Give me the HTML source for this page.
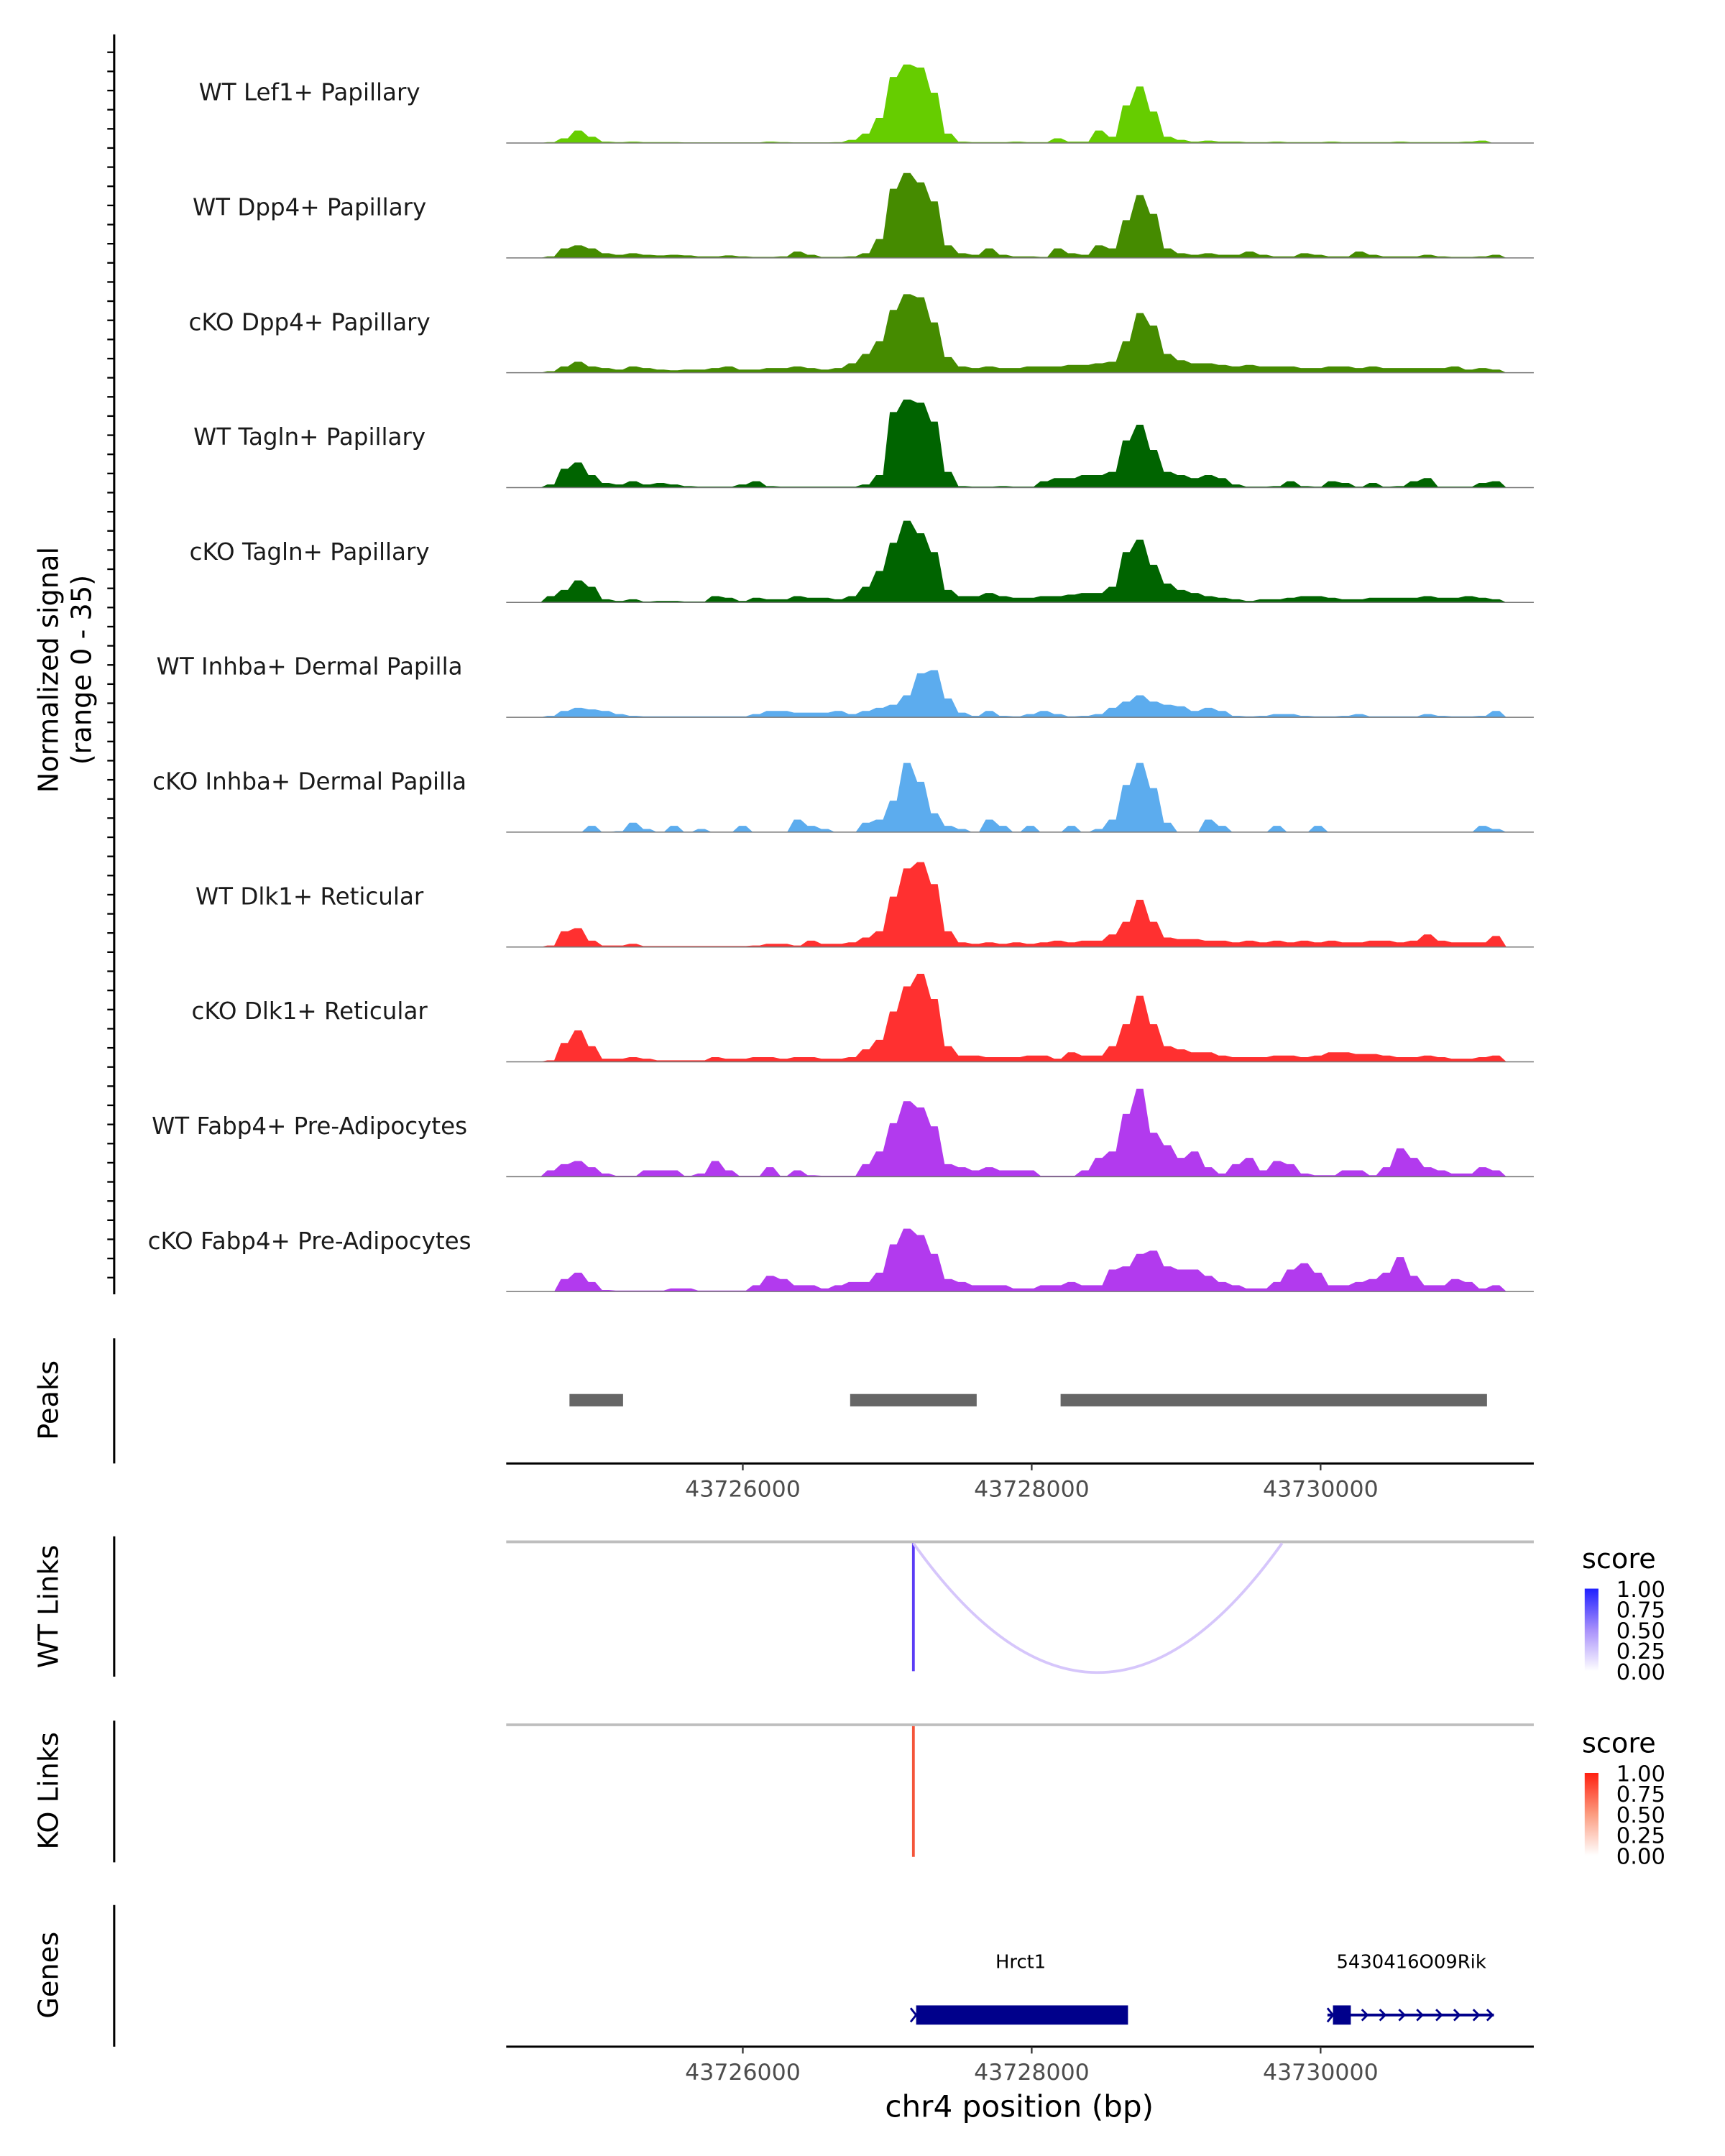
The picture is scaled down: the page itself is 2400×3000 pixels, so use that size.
<!DOCTYPE html>
<html><head><meta charset="utf-8"><style>
html,body{margin:0;padding:0;background:#fff;}
svg{display:block;font-family:"DejaVu Sans","Liberation Sans",sans-serif;}
</style></head><body>
<svg id="chart" width="2400" height="3000" viewBox="0 0 1254 1567.5" xmlns="http://www.w3.org/2000/svg">
<g id="tracks"></g>
<g id="leftaxis"><line x1="83" y1="25" x2="83" y2="941" stroke="#000" stroke-width="1.6"/></g>
<text transform="translate(42,487) rotate(-90)" text-anchor="middle" font-size="20">Normalized signal</text>
<text transform="translate(66,487) rotate(-90)" text-anchor="middle" font-size="20">(range 0 - 35)</text>

<g>
<line x1="83" y1="973" x2="83" y2="1064" stroke="#000" stroke-width="1.6"/>
<text transform="translate(42,1018) rotate(-90)" text-anchor="middle" font-size="20">Peaks</text>
<g id="peaks"></g>
</g>
<g id="xaxis1"><line x1="368" y1="1064" x2="1115" y2="1064" stroke="#000" stroke-width="1.6"/></g>

<g>
<line x1="83" y1="1117" x2="83" y2="1219" stroke="#000" stroke-width="1.6"/>
<text transform="translate(42,1168) rotate(-90)" text-anchor="middle" font-size="20">WT Links</text>
<line x1="368" y1="1121" x2="1115" y2="1121" stroke="#bebebe" stroke-width="2"/>
<line x1="664" y1="1122" x2="664" y2="1215" stroke="#5a3cf5" stroke-width="2"/>
<path d="M664 1122 Q798 1310 932 1122" fill="none" stroke="#d6c6fb" stroke-width="2"/>
</g>
<g>
<text x="1150" y="1140" font-size="20">score</text>
<defs>
<linearGradient id="gb" x1="0" y1="0" x2="0" y2="1"><stop offset="0" stop-color="#2020ff"/><stop offset="0.5" stop-color="#a890fb"/><stop offset="1" stop-color="#fff"/></linearGradient>
<linearGradient id="gr" x1="0" y1="0" x2="0" y2="1"><stop offset="0" stop-color="#ff2010"/><stop offset="0.5" stop-color="#fc9c80"/><stop offset="1" stop-color="#fff"/></linearGradient>
</defs>
<rect x="1152" y="1155" width="10" height="60" fill="url(#gb)"/>
<g font-size="16"><text x="1175" y="1161">1.00</text><text x="1175" y="1176">0.75</text><text x="1175" y="1191">0.50</text><text x="1175" y="1206">0.25</text><text x="1175" y="1221">0.00</text></g>
</g>

<g>
<line x1="83" y1="1251" x2="83" y2="1354" stroke="#000" stroke-width="1.6"/>
<text transform="translate(42,1302) rotate(-90)" text-anchor="middle" font-size="20">KO Links</text>
<line x1="368" y1="1254" x2="1115" y2="1254" stroke="#bebebe" stroke-width="2"/>
<line x1="664" y1="1255" x2="664" y2="1350" stroke="#f4553a" stroke-width="2"/>
</g>
<g>
<text x="1150" y="1274" font-size="20">score</text>
<rect x="1152" y="1289" width="10" height="60" fill="url(#gr)"/>
<g font-size="16"><text x="1175" y="1295">1.00</text><text x="1175" y="1310">0.75</text><text x="1175" y="1325">0.50</text><text x="1175" y="1340">0.25</text><text x="1175" y="1355">0.00</text></g>
</g>

<g>
<line x1="83" y1="1385" x2="83" y2="1488" stroke="#000" stroke-width="1.6"/>
<text transform="translate(42,1436) rotate(-90)" text-anchor="middle" font-size="20">Genes</text>
<text x="742" y="1431" text-anchor="middle" font-size="13.5">Hrct1</text>
<rect x="666" y="1458" width="154" height="14" fill="#00008b"/>
<path d="M662 1460 L666 1465 L662 1470" fill="none" stroke="#00008b" stroke-width="1.5"/>
<text x="1026" y="1431" text-anchor="middle" font-size="13.5">5430416O09Rik</text>
<g>
<line x1="965" y1="1465" x2="1086" y2="1465" stroke="#00008b" stroke-width="2"/>
<rect x="969" y="1458" width="13" height="14" fill="#00008b"/>
<path d="M965 1460 L969 1465 L965 1470 M990 1461 L994 1465 L990 1469 M1003 1461 L1007 1465 L1003 1469 M1017 1461 L1021 1465 L1017 1469 M1030 1461 L1034 1465 L1030 1469 M1044 1461 L1048 1465 L1044 1469 M1057 1461 L1061 1465 L1057 1469 M1071 1461 L1075 1465 L1071 1469 M1081 1461 L1085 1465 L1081 1469" fill="none" stroke="#00008b" stroke-width="1.5"/>
</g>
</g>
<g id="xaxis2"><line x1="368" y1="1488" x2="1115" y2="1488" stroke="#000" stroke-width="1.6"/></g>
<text x="741" y="1539" text-anchor="middle" font-size="22">chr4 position (bp)</text>

<script>
const trackNames = ["WT Lef1+ Papillary","WT Dpp4+ Papillary","cKO Dpp4+ Papillary","WT Tagln+ Papillary","cKO Tagln+ Papillary","WT Inhba+ Dermal Papilla","cKO Inhba+ Dermal Papilla","WT Dlk1+ Reticular","cKO Dlk1+ Reticular","WT Fabp4+ Pre-Adipocytes","cKO Fabp4+ Pre-Adipocytes"];
const trackColors = ["#66cd00","#458b00","#458b00","#006400","#006400","#5cacee","#5cacee","#ff3030","#ff3030","#b23aee","#b23aee"];
const sigLef1WT = [0,0,0,0.3, 1.5,4,2,0.5, 0.3,0.5,0.3,0.3,0.3,0.2,0.2,0.2,0.2,0.2,0.2,0.5, 0.3,0.2,0.2,0.2,0.3,1,3,8, 21,25,24,16,3,0.5, 0.3,0.3,0.3,0.5,0.3,0.3,1.5,0.5,0.5,4,2, 12,18,10,2,1, 0.5,0.8,0.5,0.5,0.3,0.3,0.5,0.3,0.3,0.3,0.5,0.3,0.3,0.3,0.3,0.5,0.3,0.3,0.3,0.3,0.5,0.8,0,0,0];
const sigDpp4WT = [0,0,0,0.5, 3,4,3,1.5, 1,1.5,1,0.8,1,0.8,0.5,0.5,0.8,0.5,0.3,0.3, 0.5,2,1,0.3,0.3,0.5,1.5,6, 22,27,24,18,4,1.5, 1,3,1,0.5,0.5,0.3,3,1.5,1,4,3, 12,20,14,3,1.5, 1,1.5,1,1,2,1,0.5,0.5,1.5,1,0.5,0.5,2,1,0.5,0.5,0.5,1,0.5,0.3,0.3,0.5,1,0,0];
const sigDpp4KO = [0,0,0,0.5, 2,3.5,2,1.5, 1,2,1.5,1,0.8,1,1,1.5,2,1,1,1.5, 1.5,2,1.5,1,1.5,3,6,10, 20,25,24,16,5,2, 1.5,2,1.5,1.5,2,2,2,2.5,2.5,3,3.5, 10,19,15,6,4, 3,3,2.5,2,2.5,2,2,2,1.5,1.5,2,2,1.5,2,1.5,1.5,1.5,1.5,1.5,2,1,1.5,1,0,0];
const sigTaglnWT = [0,0,0,1, 6,8,4,1.5, 1,2,1,1.5,1,0.5,0.3,0.3,0.3,1,2,0.5, 0.3,0.3,0.3,0.3,0.3,0.3,1,4, 24,28,27,21,5,0.5, 0.3,0.3,0.5,0.3,0.3,2,3,3,4,4,5, 15,20,12,5,4, 3,4,3,1,0.3,0.3,0.5,2,0.5,0.3,2,1.5,0.3,1.5,0.3,0.5,2,3,0.3,0.3,0.3,1.5,2,0,0];
const sigTaglnKO = [0,0,0,2, 4,7,5,1, 0.5,1,0.3,0.5,0.5,0.3,0.3,2,1.5,0.5,1.5,1, 1,2,1.5,1.5,1,2,5,10, 19,26,22,16,4,2, 2,3,2,1.5,1.5,2,2,2.5,3,3,5, 16,20,12,6,4, 3,2,1.5,1,0.5,1,1,1.5,2,2,1.5,1,1,1.5,1.5,1.5,1.5,2,1.5,1.5,2,1.5,1,0,0];
const sigInhbaWT = [0,0,0,0.5, 2,3,2.5,2, 1,0.5,0.3,0.3,0.3,0.3,0.3,0.3,0.3,0.3,1,2, 2,1.5,1.5,1.5,2,1,2,3, 4,7,14,15,6,1.5, 0.5,2,0.5,0.3,1,2,1,0.3,0.5,1,3, 5,7,5,4,3.5, 2,3,2,0.5,0.3,0.5,1,1,0.5,0.3,0.3,0.5,1,0.3,0.3,0.3,0.3,1,0.5,0.3,0.3,0.5,2,0,0];
const sigInhbaKO = [0,0,0,0, 0,0,2,0, 0.3,3,1,0,2,0,1,0,0,2,0,0, 0,4,2,1,0,0,3,4, 10,22,16,6,2,1, 0,4,2,0,2,0,0,2,0,1,4, 15,22,14,3,0, 0,4,2,0,0,0,2,0,0,2,0,0,0,0,0,0,0,0,0,0,0,2,1,0,0];
const sigDlk1WT = [0,0,0,0.5, 5,6,2,0.5, 0.5,1,0.3,0.3,0.3,0.3,0.3,0.3,0.3,0.3,0.5,1, 1,0.5,2,1,1,1.5,3,5, 16,25,27,20,5,1.5, 1,1.5,1,1.5,1,1.5,2,1.5,2,2,4, 8,15,8,3,2.5, 2.5,2,2,1.5,2,1.5,2,1.5,2,1.5,2,1.5,1.5,2,2,1.5,2,4,2,1.5,1.5,1.5,3.5,0,0];
const sigDlk1KO = [0,0,0,0.5, 6,10,5,1, 1,1.5,1,0.5,0.5,0.5,0.5,1.5,1,1,1.5,1.5, 1,1.5,1.5,1,1,1.5,4,7, 16,24,28,20,5,2, 2,1.5,1.5,1.5,2,2,1,3,2,2,5, 12,21,12,5,4, 3,3,2,1.5,1.5,1.5,2,2,1.5,2,3,3,2.5,2.5,2,1.5,1.5,2,1.5,1,1,1.5,2,0,0];
const sigFabp4WT = [0,0,0,2, 4,5,3,1, 0.3,0.3,2,2,2,0.3,1,5,2,0.3,0.3,3, 0.3,2,0.5,0.3,0.3,0.3,4,8, 17,24,22,16,4,3, 2,3,2,2,2,0.3,0.3,0.3,2,6,8, 20,28,14,10,6, 8,3,1,4,6,2,5,4,1,0.5,0.5,2,2,0.5,3,9,6,3,2,1,1,3,2,0,0];
const sigFabp4KO = [0,0,0,0, 4,6,3,0.5, 0.3,0.3,0.3,0.3,1,1,0.3,0.3,0.3,0.3,2,5, 4,2,2,1,2,3,3,6, 15,20,18,12,4,3, 2,2,2,1,1,2,2,3,2,2,7, 8,12,13,8,7, 7,5,3,2,1,1,3,7,9,6,2,2,3,4,6,11,5,2,2,4,3,1,2,0,0];
const signals = [sigLef1WT,sigDpp4WT,sigDpp4KO,sigTaglnWT,sigTaglnKO,sigInhbaWT,sigInhbaKO,sigDlk1WT,sigDlk1KO,sigFabp4WT,sigFabp4KO];
const regionStart = 43724362, regionEnd = 43731476, yMax = 35;
const peakStarts = [43724800, 43726743, 43728200];
const peakEnds = [43725171, 43727619, 43731152];
const xTicks = [43726000, 43728000, 43730000];

const NS = "http://www.w3.org/2000/svg";
const X0 = 368, X1 = 1115;
function xScale(p){ return X0 + (p - regionStart) / (regionEnd - regionStart) * (X1 - X0); }
const trackTop = 25, trackH = 83.5;
function mk(tag, attrs, parent){ const e = document.createElementNS(NS, tag); for (const k in attrs) e.setAttribute(k, attrs[k]); parent.appendChild(e); return e; }

const tg = document.getElementById('tracks');
signals.forEach((vals, t) => {
  const base = trackTop + trackH * (t + 1) - 4.5;
  const yS = v => base - v / yMax * 80;
  const g = mk('g', {}, tg);
  
  
  const n = vals.length;
  const bw = (regionEnd - regionStart) / n;
  let d = 'M' + X0 + ' ' + base;
  vals.forEach((v, i) => {
    const xa = xScale(regionStart + i * bw), xb = xScale(regionStart + (i + 1) * bw);
    d += ' L' + xa.toFixed(1) + ' ' + yS(v).toFixed(1) + ' L' + ((xa + xb) / 2).toFixed(1) + ' ' + yS(v).toFixed(1);
  });
  d += ' L' + X1 + ' ' + base + ' Z';
  const a = mk('path', {d: d, fill: trackColors[t]}, g);
  
  
  const bl = mk('line', {x1: X0, y1: base, x2: X1, y2: base, stroke: '#777', 'stroke-width': 0.8}, g);
  
  
  const lab = mk('text', {x: 225, y: base - 31, 'text-anchor': 'middle', 'font-size': 17, fill: '#1a1a1a'}, g);
  lab.textContent = trackNames[t];
  
  
});
const la = document.getElementById('leftaxis');
for (let y = 38; y < 941; y += 13.92) {
  const tk = mk('line', {x1: 78, y1: y, x2: 83, y2: y, stroke: '#000', 'stroke-width': 1.2}, la);
  
  
}
const pg = document.getElementById('peaks');
peakStarts.forEach((s, i) => {
  const r = mk('rect', {x: xScale(s), y: 1013.5, width: xScale(peakEnds[i]) - xScale(s), height: 9, fill: '#666'}, pg);
  
  
});
[['xaxis1', 1064], ['xaxis2', 1488]].forEach(([id, y]) => {
  const g = document.getElementById(id);
  xTicks.forEach(p => {
    const tk = mk('line', {x1: xScale(p), y1: y, x2: xScale(p), y2: y + 5, stroke: '#333', 'stroke-width': 1.2}, g);
    
    
    const tl = mk('text', {x: xScale(p), y: y + 24, 'text-anchor': 'middle', 'font-size': 16.5, fill: '#4d4d4d'}, g);
    tl.textContent = p;
    
    
  });
});
</script>
</svg>
</body></html>
